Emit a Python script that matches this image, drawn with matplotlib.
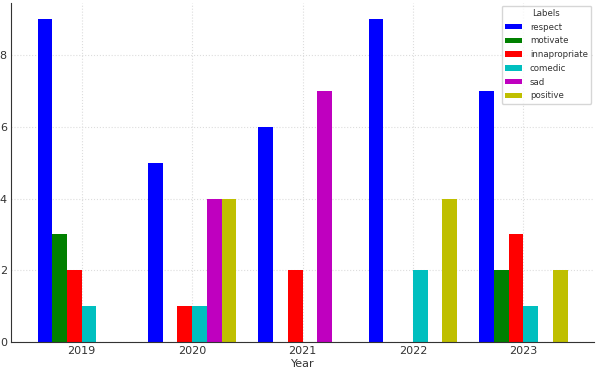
import matplotlib
matplotlib.use("Agg")
import matplotlib.pyplot as plt
import numpy as np

years = ["2019", "2020", "2021", "2022", "2023"]
labels = ["respect", "motivate", "innapropriate", "comedic", "sad", "positive"]
respect = [9, 5, 6, 9, 7]
motivate = [3, 0, 0, 0, 2]
innapropriate = [2, 1, 2, 0, 3]
comedic = [1, 1, 0, 2, 1]
sad = [0, 4, 7, 0, 0]
positive = [0, 4, 0, 4, 2]
series = [respect, motivate, innapropriate, comedic, sad, positive]
colors = ["b", "g", "r", "c", "m", "y"]

fig = plt.figure(figsize=(5.98, 3.74), dpi=100)
ax = fig.add_axes([11/598, 1 - 342/374, (594 - 11)/598, (342 - 3)/374])

x = np.arange(len(years))
w = 0.8 / len(labels)
for i, (lab, vals, c) in enumerate(zip(labels, series, colors)):
    ax.bar(x + (i - 2.5) * w, vals, w, label=lab, color=c)

ax.set_xticks(x)
ax.set_xticklabels(years)
ax.set_xlabel("Year", fontsize=8, color="#333333", labelpad=2)
ax.set_yticks([0, 2, 4, 6, 8])
ax.tick_params(length=0, labelsize=8, colors="#333333", pad=3)
ax.grid(True, linestyle=":", color="#dddddd", linewidth=0.8)
ax.set_axisbelow(True)
for s in ["top", "right"]:
    ax.spines[s].set_visible(False)
for s in ["left", "bottom"]:
    ax.spines[s].set_color("#333333")

leg = ax.legend(title="Labels", loc="upper right", fontsize=6.2, title_fontsize=6.2,
                frameon=True, fancybox=True, handlelength=2.0, handleheight=0.6,
                handletextpad=0.9, labelspacing=0.55, borderaxespad=0.3)
for t in leg.get_texts():
    t.set_color("#333333")
leg.get_title().set_color("#333333")

fig.savefig("out.png", dpi=100)
